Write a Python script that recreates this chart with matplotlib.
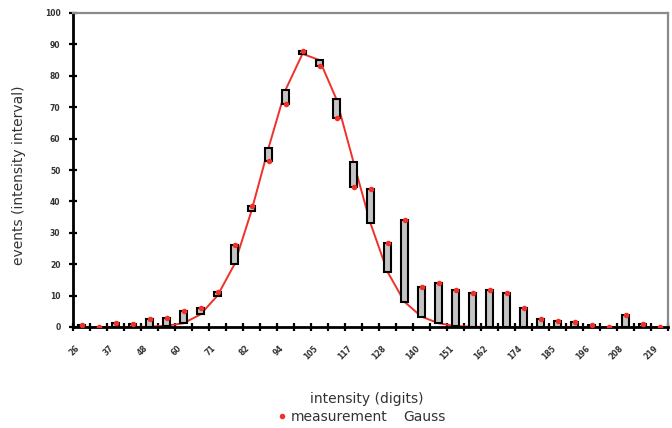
import matplotlib
matplotlib.use("Agg")
import matplotlib.pyplot as plt
from matplotlib.lines import Line2D
from matplotlib.ticker import FixedLocator, FixedFormatter

# intensity class (digits) for each category
categories = [26, 31, 37, 43, 48, 54, 60, 65, 71, 77, 82, 88, 94, 99, 105, 111, 117,
              122, 128, 134, 140, 145, 151, 157, 162, 168, 174, 179, 185, 191, 196,
              202, 208, 213, 219]

measurement = [0.6, 0.0, 1.3, 1.0, 2.5, 3.0, 5.0, 6.0, 11.0, 26.0, 38.5, 53.0, 71.0,
               88.0, 83.0, 66.5, 44.5, 44.0, 26.8, 34.0, 12.8, 13.9, 11.7, 10.7, 11.7,
               10.7, 5.9, 2.5, 1.8, 1.5, 0.7, 0.0, 3.8, 0.8, 0.0]

gauss = [0.0, 0.0, 0.0, 0.0, 0.1, 0.4, 1.2, 4.0, 10.0, 20.0, 37.0, 57.0, 75.5,
         87.0, 85.0, 72.5, 52.5, 33.0, 17.6, 8.0, 3.3, 1.2, 0.3, 0.1, 0.0,
         0.0, 0.0, 0.0, 0.0, 0.0, 0.0, 0.0, 0.0, 0.0, 0.0]

y_ticks = [0, 10, 20, 30, 40, 50, 60, 70, 80, 90, 100]

RED = "#f0302a"

fig = plt.figure(figsize=(6.72, 4.28), dpi=100)
ax = fig.add_axes([73 / 672, 1 - 327 / 428, (668 - 73) / 672, (327 - 13) / 428])

n = len(categories)
xs = list(range(n))

# Gauss line
ax.plot(xs, gauss, color=RED, lw=1.4, zorder=2)

# up-down bars between measurement and Gauss
for x, m, g in zip(xs, measurement, gauss):
    lo, hi = min(m, g), max(m, g)
    if hi - lo > 0.05:
        ax.bar(x, hi - lo, bottom=lo, width=0.38, color="#c4c4c4",
               edgecolor="black", linewidth=1.5, zorder=3)

# measurement points
ax.plot(xs, measurement, linestyle="none", marker="o", markersize=4,
        color=RED, markeredgewidth=0, zorder=4)

ax.set_xlim(-0.5, n - 0.5)
ax.set_ylim(0, 100)

# spines
for s in ("left", "bottom"):
    ax.spines[s].set_color("black")
    ax.spines[s].set_linewidth(2)
for s in ("top", "right"):
    ax.spines[s].set_color("#8a8a8a")
    ax.spines[s].set_linewidth(1.6)

ax.set_yticks(y_ticks)
ax.set_yticklabels([str(v) for v in y_ticks], fontsize=5.5, fontweight="bold",
                   color="#333333")
ax.tick_params(axis="y", direction="inout", length=6, width=1.6, pad=6)

# x: tick marks at category boundaries, labels at every second category
ax.xaxis.set_major_locator(FixedLocator([i - 0.5 for i in range(n + 1)]))
ax.xaxis.set_major_formatter(FixedFormatter([""] * (n + 1)))
lab_pos = xs[::2]
ax.xaxis.set_minor_locator(FixedLocator(lab_pos))
ax.xaxis.set_minor_formatter(FixedFormatter([str(categories[i]) for i in lab_pos]))
ax.tick_params(axis="x", which="major", direction="inout", length=6, width=1.6)
ax.tick_params(axis="x", which="minor", length=0, pad=12, labelsize=5.5,
               labelcolor="#333333")
for t in ax.xaxis.get_minorticklabels():
    t.set_rotation(45)
    t.set_ha("right")
    t.set_va("top")
    t.set_fontweight("bold")

ax.set_xlabel("intensity (digits)", fontsize=10, color="#333333", va="center")
ax.xaxis.set_label_coords((367 - 73) / 595, (327 - 399) / 314)
ax.set_ylabel("events (intensity interval)", fontsize=10, color="#333333", va="center")
ax.yaxis.set_label_coords((19 - 73) / 595, (327 - 175) / 314)

handles = [Line2D([], [], linestyle="none", marker="o", markersize=4, color=RED,
                  markeredgewidth=0),
           Line2D([], [], linestyle="none", marker="none", color=RED)]
fig.legend(handles, ["measurement", "Gauss"], loc="center", ncol=2,
           bbox_to_anchor=(362 / 672, 1 - 417 / 428), frameon=False,
           fontsize=10, handlelength=0.6, handletextpad=0.3, columnspacing=0.25,
           labelcolor="#333333", borderaxespad=0, borderpad=0)

fig.savefig("out.png", dpi=100)
